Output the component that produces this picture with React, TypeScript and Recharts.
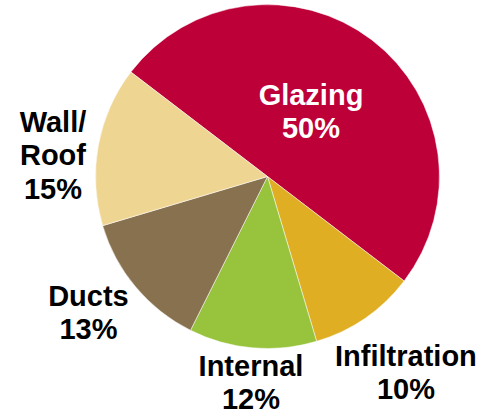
import React from "react";
import { PieChart, Pie, Cell } from "recharts";

const names = ["Glazing", "Infiltration", "Internal", "Ducts", "Wall/Roof"];
const labelLines = [["Glazing"], ["Infiltration"], ["Internal"], ["Ducts"], ["Wall/", "Roof"]];
const values = [50, 10, 12, 13, 15];
const colors = ["#BE0038", "#E0AE22", "#97C33D", "#88714F", "#EFD592"];
const labelColors = ["#ffffff", "#000000", "#000000", "#000000", "#000000"];

// label placement (radius from centre, angle tweak vs mid angle)
const labelRadius = [78.6, 239.6, 206.2, 224.5, 215.6];
const labelAngleShift = [3.8, 0.7, 0.4, -2.9, 4.7];

const data = names.map((n, i) => ({ name: n, value: values[i] }));

const W = 494;
const H = 412;
const CX = 267.5;
const CY = 176.5;
const R = 172;
const START = 142.6;
const LINE = 33.5;
const FONT = 29;
const RAD = Math.PI / 180;

const renderLabel = (props: any) => {
  const { index, midAngle } = props;
  const cx = typeof props.cx === "number" ? props.cx : CX;
  const cy = typeof props.cy === "number" ? props.cy : CY;
  const ang = (midAngle + labelAngleShift[index]) * RAD;
  const r = labelRadius[index];
  const x = cx + r * Math.cos(ang);
  const y = cy - r * Math.sin(ang);
  const lines = [...labelLines[index], `${values[index]}%`];
  const n = lines.length;
  // y is the visual centre of the block; cap height ~0.716*FONT
  const firstBaseline = y - ((n - 1) * LINE) / 2 + (0.716 * FONT) / 2;
  return (
    <text
      key={`lbl-${index}`}
      x={x}
      y={firstBaseline}
      textAnchor="middle"
      fill={labelColors[index]}
      fontFamily="'Liberation Sans', Arial, Helvetica, sans-serif"
      fontWeight="bold"
      fontSize={FONT}
    >
      {lines.map((l, i) => (
        <tspan key={i} x={x} y={firstBaseline + i * LINE}>
          {l}
        </tspan>
      ))}
    </text>
  );
};

export default function App() {
  return (
    <div style={{ position: "absolute", left: 0, top: 0, width: W, height: H, background: "#fff" }}>
      <PieChart width={W} height={H} margin={{ top: 0, right: 0, bottom: 0, left: 0 }}>
        <Pie
          data={data}
          dataKey="value"
          nameKey="name"
          cx={CX}
          cy={CY}
          outerRadius={R}
          innerRadius={0}
          startAngle={START}
          endAngle={START - 360}
          stroke="#ffffff"
          strokeWidth={0.5}
          label={renderLabel}
          labelLine={false}
          isAnimationActive={false}
        >
          {data.map((d, i) => (
            <Cell key={d.name} fill={colors[i]} />
          ))}
        </Pie>
      </PieChart>
    </div>
  );
}
